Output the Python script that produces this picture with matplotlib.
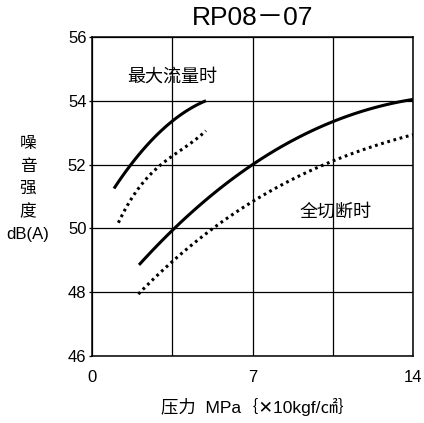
import numpy as np
import matplotlib
matplotlib.use('Agg')
import matplotlib.pyplot as plt

plt.rcParams['font.family'] = ['Liberation Sans', 'Noto Sans CJK SC', 'DejaVu Sans']

# noise level vs pressure, read per curve (MPa, dB(A))
max_flow_x = [0.96, 1.66, 2.53, 3.5, 4.2, 4.97]
max_flow_y = [51.24, 52.0, 52.67, 53.38, 53.72, 54.0]
max_flow_dot_x = [1.15, 1.51, 2.53, 3.04, 3.5, 4.13, 4.97]
max_flow_dot_y = [50.05, 50.89, 51.57, 52.0, 52.25, 52.67, 53.03]

cutoff_x = [2.05, 3.5, 5.25, 7.0, 8.94, 10.5, 12.0, 13.3, 14.0]
cutoff_y = [48.82, 50.0, 51.05, 52.0, 52.77, 53.35, 53.77, 53.98, 54.0]
cutoff_dot_x = [2.02, 3.5, 5.22, 7.0, 8.7, 10.25, 10.5, 12.0, 14.0]
cutoff_dot_y = [47.91, 49.0, 50.0, 50.83, 51.45, 52.0, 52.14, 52.6, 52.9]

x_ticks = [0, 7, 14]
y_ticks = [46, 48, 50, 52, 54, 56]


def smooth(xs, ys, n=80):
    # cubic fit through the read points keeps each curve smooth
    c = np.polyfit(xs, ys, 3)
    xx = np.linspace(xs[0], xs[-1], n)
    return xx, np.polyval(c, xx)


fig = plt.figure(figsize=(4.24, 4.23), dpi=100)
ax = fig.add_axes([92/424, 1 - 356/423, 321/424, 319/423])

dots = (0, (0.9, 1.2))
for xs, ys, ls in [(max_flow_x, max_flow_y, '-'),
                   (max_flow_dot_x, max_flow_dot_y, dots),
                   (cutoff_x, cutoff_y, '-'),
                   (cutoff_dot_x, cutoff_dot_y, dots)]:
    xx, yy = smooth(xs, ys)
    ax.plot(xx, yy, color='black', lw=2.2, ls=ls, solid_capstyle='butt')

ax.set_xlim(0, 14)
ax.set_ylim(46, 56)
ax.set_xticks(x_ticks)
ax.set_xticks([3.5, 10.5], minor=True)
ax.set_yticks(y_ticks)
ax.grid(True, which='both', color='black', lw=0.9)
ax.tick_params(axis='x', which='both', length=0, pad=10, labelsize=12)
ax.tick_params(axis='y', length=2, width=0.9, pad=2, labelsize=12)
for s in ax.spines.values():
    s.set_linewidth(1.1)

ax.text(3.49, 54.75, '最大流量时', ha='center', va='center', fontsize=13)
ax.text(10.6, 50.51, '全切断时', ha='center', va='center', fontsize=13)

fig.text(253/424, 1 - 18/423, 'RP08－07', ha='center', va='center', fontsize=19)
fig.text(28/424, 1 - 189/423, '噪\n音\n强\n度\ndB(A)', ha='center', va='center',
         fontsize=12, linespacing=1.62)
fig.text(258/424, 1 - 407/423, '压力  MPa｛✕10kgf/㎠｝', ha='center', va='center',
         fontsize=12.5)

fig.savefig('out.png', dpi=100)
